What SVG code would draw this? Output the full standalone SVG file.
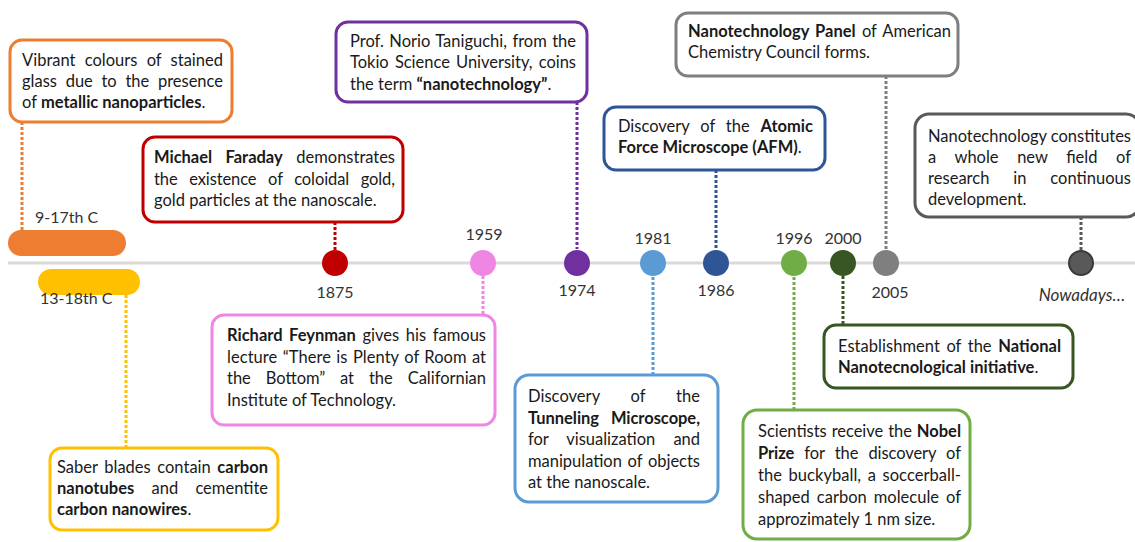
<svg xmlns="http://www.w3.org/2000/svg" width="1135" height="542" viewBox="0 0 1135 542">
<style>
.t{font-family:Lato,"Open Sans","Liberation Sans",sans-serif;font-size:16.5px;fill:#1a1a1a}
.b{font-weight:bold}
.yr{font-family:Lato,"Open Sans","Liberation Sans",sans-serif;font-size:16px;fill:#333;text-anchor:middle}
.box{fill:#fff;stroke-width:3}
.dot{stroke-width:3;stroke-dasharray:3 2;fill:none}
</style>
<rect width="1135" height="542" fill="#fff"/>
<g id="timeline"><line x1="8" y1="263" x2="1135" y2="263" stroke="#d9d9d9" stroke-width="3"/></g>
<g id="connectors">
<line class="dot" x1="22" y1="122" x2="22" y2="230" stroke="#ED7D31"/>
<line class="dot" x1="126" y1="295" x2="126" y2="448" stroke="#FFC000"/>
<line class="dot" x1="335" y1="222" x2="335" y2="250" stroke="#C00000"/>
<line class="dot" x1="483" y1="276" x2="483" y2="315" stroke="#EF86E3"/>
<line class="dot" x1="577" y1="102" x2="577" y2="249" stroke="#7030A0"/>
<line class="dot" x1="653" y1="277" x2="653" y2="375" stroke="#5B9BD5"/>
<line class="dot" x1="716" y1="170" x2="716" y2="250" stroke="#2F5597"/>
<line class="dot" x1="794" y1="277" x2="794" y2="410" stroke="#70AD47"/>
<line class="dot" x1="843" y1="276" x2="843" y2="325" stroke="#375623"/>
<line class="dot" x1="886" y1="76" x2="886" y2="249" stroke="#7F7F7F"/>
<line class="dot" x1="1081" y1="217" x2="1081" y2="250" stroke="#595959"/>
</g>
<g id="era-9-17">
<rect x="8" y="230" width="118" height="26" rx="13" fill="#ED7D31"/>
<text class="yr" x="35" y="223" style="text-anchor:start">9-17th C</text>
</g>
<g id="era-13-18">
<rect x="38" y="269" width="102" height="26" rx="13" fill="#FFC000"/>
<text class="yr" x="40" y="304" style="text-anchor:start">13-18th C</text>
</g>
<g id="y1875"><circle cx="335" cy="263" r="13" fill="#C00000"/><text class="yr" x="335" y="298">1875</text></g>
<g id="y1959"><circle cx="483" cy="263" r="13" fill="#EF86E3"/><text class="yr" x="484" y="240">1959</text></g>
<g id="y1974"><circle cx="577" cy="263" r="13" fill="#7030A0"/><text class="yr" x="577" y="296">1974</text></g>
<g id="y1981"><circle cx="653" cy="263" r="13" fill="#5B9BD5"/><text class="yr" x="653" y="244">1981</text></g>
<g id="y1986"><circle cx="716" cy="263" r="13" fill="#2F5597"/><text class="yr" x="716" y="296">1986</text></g>
<g id="y1996"><circle cx="794" cy="263" r="13" fill="#70AD47"/><text class="yr" x="794" y="244">1996</text></g>
<g id="y2000"><circle cx="843" cy="263" r="13" fill="#375623"/><text class="yr" x="843" y="244">2000</text></g>
<g id="y2005"><circle cx="886" cy="263" r="13" fill="#7F7F7F"/><text class="yr" x="890" y="298">2005</text></g>
<g id="ynow"><circle cx="1081" cy="263" r="12" fill="#595959" stroke="#3a3a3a" stroke-width="2"/><text class="yr" x="1082" y="301" style="font-style:italic;font-size:17px">Nowadays…</text></g>

<g id="box-stained-glass">
<rect class="box" x="10" y="40" width="222" height="82" rx="12" stroke="#ED7D31"/>
<text class="t" x="22" y="66" word-spacing="5" textLength="201" lengthAdjust="spacing">Vibrant colours of stained</text>
<text class="t" x="22" y="87" word-spacing="4.5" textLength="201" lengthAdjust="spacing">glass due to the presence</text>
<text class="t" x="22" y="108">of <tspan class="b">metallic nanoparticles</tspan>.</text>
</g>
<g id="box-faraday">
<rect class="box" x="143" y="137" width="260" height="85" rx="12" stroke="#C00000"/>
<text class="t" x="154" y="163" word-spacing="9.5" textLength="241" lengthAdjust="spacing"><tspan class="b">Michael Faraday</tspan> demonstrates</text>
<text class="t" x="154" y="185" word-spacing="7.5" textLength="241" lengthAdjust="spacing">the existence of coloidal gold,</text>
<text class="t" x="154" y="206">gold particles at the nanoscale.</text>
</g>
<g id="box-taniguchi">
<rect class="box" x="336" y="22" width="251" height="80" rx="12" stroke="#7030A0"/>
<text class="t" x="350" y="47" word-spacing="1.2" textLength="226" lengthAdjust="spacing">Prof. Norio Taniguchi, from the</text>
<text class="t" x="350" y="68" word-spacing="2" textLength="226" lengthAdjust="spacing">Tokio Science University, coins</text>
<text class="t" x="350" y="90">the term <tspan class="b">“nanotechnology”</tspan>.</text>
</g>
<g id="box-feynman">
<rect class="box" x="212" y="315" width="283" height="110" rx="12" stroke="#EF86E3"/>
<text class="t" x="227" y="341" word-spacing="2.5" textLength="259" lengthAdjust="spacing"><tspan class="b">Richard Feynman</tspan> gives his famous</text>
<text class="t" x="227" y="363" word-spacing="1.1" textLength="259" lengthAdjust="spacing">lecture “There is Plenty of Room at</text>
<text class="t" x="227" y="384" word-spacing="10.7" textLength="259" lengthAdjust="spacing">the Bottom” at the Californian</text>
<text class="t" x="227" y="406">Institute of Technology.</text>
</g>
<g id="box-saber">
<rect class="box" x="50" y="448" width="228" height="82" rx="12" stroke="#FFC000"/>
<text class="t" x="57" y="473" word-spacing="2.3" textLength="211" lengthAdjust="spacing">Saber blades contain <tspan class="b">carbon</tspan></text>
<text class="t" x="57" y="494" word-spacing="13" textLength="211" lengthAdjust="spacing"><tspan class="b">nanotubes</tspan> and cementite</text>
<text class="t" x="57" y="515"><tspan class="b">carbon nanowires</tspan>.</text>
</g>
<g id="box-tunneling">
<rect class="box" x="515" y="375" width="203" height="127" rx="14" stroke="#5B9BD5"/>
<text class="t" x="528" y="402" word-spacing="26.5" textLength="172" lengthAdjust="spacing">Discovery of the</text>
<text class="t b" x="528" y="423.5" word-spacing="8" textLength="172" lengthAdjust="spacing">Tunneling Microscope,</text>
<text class="t" x="528" y="445" word-spacing="14" textLength="172" lengthAdjust="spacing">for visualization and</text>
<text class="t" x="528" y="466.5" word-spacing="1.5" textLength="172" lengthAdjust="spacing">manipulation of objects</text>
<text class="t" x="528" y="488">at the nanoscale.</text>
</g>
<g id="box-afm">
<rect class="box" x="604" y="107" width="221" height="63" rx="12" stroke="#2F5597"/>
<text class="t" x="618" y="132" word-spacing="6.7" textLength="195" lengthAdjust="spacing">Discovery of the <tspan class="b">Atomic</tspan></text>
<text class="t" x="618" y="153"><tspan class="b">Force Microscope (AFM)</tspan>.</text>
</g>
<g id="box-panel">
<rect class="box" x="676" y="13" width="282" height="63" rx="12" stroke="#7F7F7F"/>
<text class="t" x="688" y="37" word-spacing="2" textLength="263" lengthAdjust="spacing"><tspan class="b">Nanotechnology Panel</tspan> of American</text>
<text class="t" x="688" y="58">Chemistry Council forms.</text>
</g>
<g id="box-nowadays">
<rect class="box" x="915" y="114" width="225" height="103" rx="14" stroke="#595959"/>
<text class="t" x="928" y="142" textLength="203" lengthAdjust="spacing">Nanotechnology constitutes</text>
<text class="t" x="928" y="163" word-spacing="14.5" textLength="203" lengthAdjust="spacing">a whole new field of</text>
<text class="t" x="928" y="184" word-spacing="19.5" textLength="203" lengthAdjust="spacing">research in continuous</text>
<text class="t" x="928" y="205">development.</text>
</g>
<g id="box-nobel">
<rect class="box" x="743" y="410" width="227" height="129" rx="14" stroke="#70AD47"/>
<text class="t" x="758" y="437" word-spacing="0.7" textLength="203" lengthAdjust="spacing">Scientists receive the <tspan class="b">Nobel</tspan></text>
<text class="t" x="758" y="459" word-spacing="6" textLength="203" lengthAdjust="spacing"><tspan class="b">Prize</tspan> for the discovery of</text>
<text class="t" x="758" y="481" word-spacing="2.3" textLength="203" lengthAdjust="spacing">the buckyball, a soccerball-</text>
<text class="t" x="758" y="503" word-spacing="2.7" textLength="203" lengthAdjust="spacing">shaped carbon molecule of</text>
<text class="t" x="758" y="525">approzimately 1 nm size.</text>
</g>
<g id="box-national">
<rect class="box" x="824" y="325" width="249" height="63" rx="12" stroke="#375623"/>
<text class="t" x="838" y="352" word-spacing="2.3" textLength="223" lengthAdjust="spacing">Establishment of the <tspan class="b">National</tspan></text>
<text class="t" x="838" y="373"><tspan class="b">Nanotecnological initiative</tspan>.</text>
</g>
</svg>
